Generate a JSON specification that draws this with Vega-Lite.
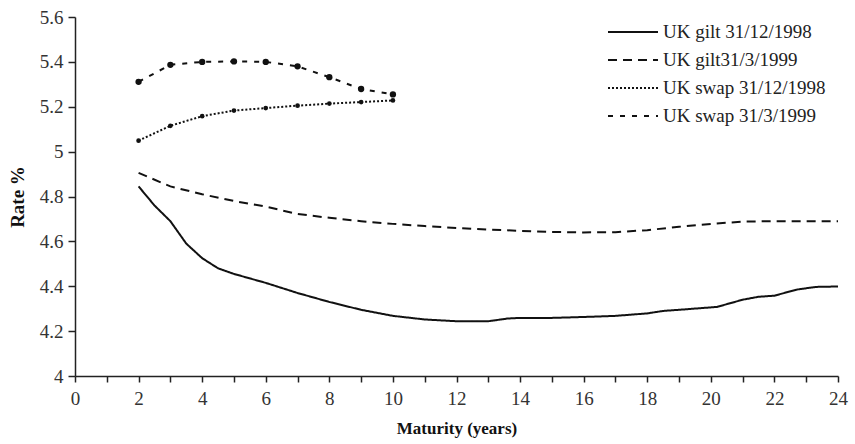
{
  "$schema": "https://vega.github.io/schema/vega-lite/v6.json",
  "width": 763,
  "height": 359,
  "autosize": {"type": "none"},
  "padding": {"left": 75, "top": 17, "right": 17, "bottom": 68},
  "background": "white",
  "config": {
    "view": {"stroke": null},
    "font": "Liberation Serif"
  },
  "data": {
    "values": [
      {"series": "UK gilt 31/12/1998", "m": 2, "r": 4.845},
      {"series": "UK gilt 31/12/1998", "m": 2.5, "r": 4.76},
      {"series": "UK gilt 31/12/1998", "m": 3, "r": 4.69},
      {"series": "UK gilt 31/12/1998", "m": 3.5, "r": 4.59},
      {"series": "UK gilt 31/12/1998", "m": 4, "r": 4.525},
      {"series": "UK gilt 31/12/1998", "m": 4.5, "r": 4.48},
      {"series": "UK gilt 31/12/1998", "m": 5, "r": 4.455},
      {"series": "UK gilt 31/12/1998", "m": 6, "r": 4.415},
      {"series": "UK gilt 31/12/1998", "m": 7, "r": 4.37},
      {"series": "UK gilt 31/12/1998", "m": 8, "r": 4.33},
      {"series": "UK gilt 31/12/1998", "m": 9, "r": 4.295},
      {"series": "UK gilt 31/12/1998", "m": 10, "r": 4.268},
      {"series": "UK gilt 31/12/1998", "m": 11, "r": 4.252},
      {"series": "UK gilt 31/12/1998", "m": 12, "r": 4.244},
      {"series": "UK gilt 31/12/1998", "m": 13, "r": 4.244},
      {"series": "UK gilt 31/12/1998", "m": 13.6, "r": 4.256},
      {"series": "UK gilt 31/12/1998", "m": 14, "r": 4.259},
      {"series": "UK gilt 31/12/1998", "m": 15, "r": 4.259},
      {"series": "UK gilt 31/12/1998", "m": 16, "r": 4.263},
      {"series": "UK gilt 31/12/1998", "m": 17, "r": 4.268},
      {"series": "UK gilt 31/12/1998", "m": 18, "r": 4.279},
      {"series": "UK gilt 31/12/1998", "m": 18.5, "r": 4.29},
      {"series": "UK gilt 31/12/1998", "m": 19, "r": 4.295},
      {"series": "UK gilt 31/12/1998", "m": 20.2, "r": 4.308},
      {"series": "UK gilt 31/12/1998", "m": 21, "r": 4.34},
      {"series": "UK gilt 31/12/1998", "m": 21.5, "r": 4.353},
      {"series": "UK gilt 31/12/1998", "m": 22, "r": 4.358},
      {"series": "UK gilt 31/12/1998", "m": 22.7, "r": 4.385},
      {"series": "UK gilt 31/12/1998", "m": 23.3, "r": 4.397},
      {"series": "UK gilt 31/12/1998", "m": 24, "r": 4.399},
      {"series": "UK gilt31/3/1999", "m": 2, "r": 4.905},
      {"series": "UK gilt31/3/1999", "m": 3, "r": 4.845},
      {"series": "UK gilt31/3/1999", "m": 4, "r": 4.81},
      {"series": "UK gilt31/3/1999", "m": 5, "r": 4.78},
      {"series": "UK gilt31/3/1999", "m": 6, "r": 4.755},
      {"series": "UK gilt31/3/1999", "m": 7, "r": 4.722},
      {"series": "UK gilt31/3/1999", "m": 8, "r": 4.705},
      {"series": "UK gilt31/3/1999", "m": 9, "r": 4.69},
      {"series": "UK gilt31/3/1999", "m": 10, "r": 4.678},
      {"series": "UK gilt31/3/1999", "m": 11, "r": 4.668},
      {"series": "UK gilt31/3/1999", "m": 12, "r": 4.66},
      {"series": "UK gilt31/3/1999", "m": 13, "r": 4.653},
      {"series": "UK gilt31/3/1999", "m": 14, "r": 4.647},
      {"series": "UK gilt31/3/1999", "m": 15, "r": 4.642},
      {"series": "UK gilt31/3/1999", "m": 16, "r": 4.64},
      {"series": "UK gilt31/3/1999", "m": 17, "r": 4.641},
      {"series": "UK gilt31/3/1999", "m": 18, "r": 4.65},
      {"series": "UK gilt31/3/1999", "m": 19, "r": 4.665},
      {"series": "UK gilt31/3/1999", "m": 20, "r": 4.678},
      {"series": "UK gilt31/3/1999", "m": 21, "r": 4.688},
      {"series": "UK gilt31/3/1999", "m": 22, "r": 4.69},
      {"series": "UK gilt31/3/1999", "m": 23, "r": 4.69},
      {"series": "UK gilt31/3/1999", "m": 24, "r": 4.69},
      {"series": "UK swap 31/12/1998", "m": 2, "r": 5.049},
      {"series": "UK swap 31/12/1998", "m": 3, "r": 5.115},
      {"series": "UK swap 31/12/1998", "m": 4, "r": 5.158},
      {"series": "UK swap 31/12/1998", "m": 5, "r": 5.183},
      {"series": "UK swap 31/12/1998", "m": 6, "r": 5.194},
      {"series": "UK swap 31/12/1998", "m": 7, "r": 5.205},
      {"series": "UK swap 31/12/1998", "m": 8, "r": 5.214},
      {"series": "UK swap 31/12/1998", "m": 9, "r": 5.221},
      {"series": "UK swap 31/12/1998", "m": 10, "r": 5.228},
      {"series": "UK swap 31/3/1999", "m": 2, "r": 5.311},
      {"series": "UK swap 31/3/1999", "m": 3, "r": 5.387},
      {"series": "UK swap 31/3/1999", "m": 4, "r": 5.4},
      {"series": "UK swap 31/3/1999", "m": 5, "r": 5.402},
      {"series": "UK swap 31/3/1999", "m": 6, "r": 5.4},
      {"series": "UK swap 31/3/1999", "m": 7, "r": 5.38},
      {"series": "UK swap 31/3/1999", "m": 8, "r": 5.332},
      {"series": "UK swap 31/3/1999", "m": 9, "r": 5.279},
      {"series": "UK swap 31/3/1999", "m": 10, "r": 5.255}
    ]
  },
  "encoding": {
    "x": {
      "field": "m", "type": "quantitative",
      "scale": {"domain": [0, 24], "nice": false, "zero": false},
      "axis": {
        "title": "Maturity (years)", "titleFont": "Liberation Serif", "titleFontWeight": "bold", "titleFontSize": 17, "titleColor": "#111", "titlePadding": 12,
        "labelFont": "Liberation Serif", "labelFontSize": 19, "labelColor": "#333",
        "domainColor": "#222", "tickColor": "#222", "domainWidth": 1.5, "tickWidth": 1.5, "grid": false,
        "values": [0,1,2,3,4,5,6,7,8,9,10,11,12,13,14,15,16,17,18,19,20,21,22,23,24],
        "labelExpr": "datum.value % 2 === 0 ? datum.label : ''",
        "tickSize": 6, "labelPadding": 7, "labelFlush": false
      }
    },
    "y": {
      "field": "r", "type": "quantitative",
      "scale": {"domain": [4, 5.6], "nice": false, "zero": false},
      "axis": {
        "title": "Rate %", "titleFont": "Liberation Serif", "titleFontWeight": "bold", "titleFontSize": 19, "titleColor": "#111", "titlePadding": 12,
        "labelFont": "Liberation Serif", "labelFontSize": 19, "labelColor": "#333",
        "domainColor": "#222", "tickColor": "#222", "domainWidth": 1.5, "tickWidth": 1.5, "grid": false,
        "values": [4, 4.2, 4.4, 4.6, 4.8, 5, 5.2, 5.4, 5.6],
        "format": "~g", "tickSize": 7, "labelPadding": 5
      }
    }
  },
  "layer": [
    {
      "mark": {"type": "line", "color": "#111", "strokeWidth": 2},
      "encoding": {
        "strokeDash": {
          "field": "series", "type": "nominal",
          "scale": {
            "domain": ["UK gilt 31/12/1998", "UK gilt31/3/1999", "UK swap 31/12/1998", "UK swap 31/3/1999"],
            "range": [[1, 0], [9, 6], [2, 2], [5, 7]]
          },
          "legend": {
            "title": null, "orient": "none", "legendX": 532, "legendY": 1,
            "symbolType": "stroke", "symbolSize": 2500, "symbolStrokeWidth": 2, "symbolStrokeColor": "#111",
            "labelFont": "Liberation Serif", "labelFontSize": 19, "labelColor": "#222", "labelLimit": 300,
            "labelOffset": 4, "rowPadding": 0, "clipHeight": 28
          }
        }
      }
    },
    {
      "transform": [{"filter": "datum.series === 'UK swap 31/12/1998'"}],
      "mark": {"type": "point", "filled": true, "color": "#111", "size": 22, "opacity": 1}
    },
    {
      "transform": [{"filter": "datum.series === 'UK swap 31/3/1999'"}],
      "mark": {"type": "point", "filled": true, "color": "#111", "size": 40, "opacity": 1}
    }
  ]
}
